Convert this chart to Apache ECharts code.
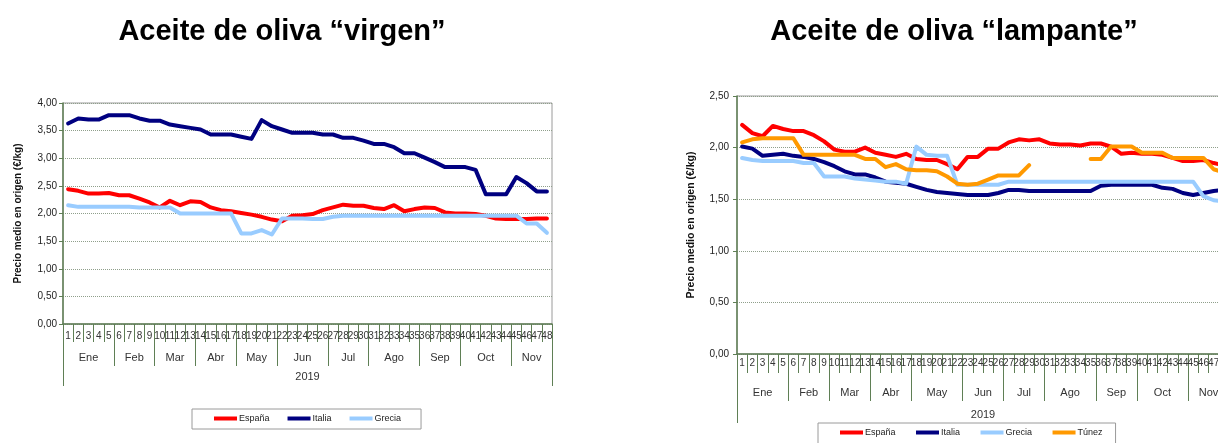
<!DOCTYPE html>
<html>
<head>
<meta charset="utf-8">
<script src="https://cdn.jsdelivr.net/npm/echarts@6/dist/echarts.min.js"></script>
<style>
html,body{margin:0;padding:0;background:#fff;}
#c{width:1218px;height:443px;}
</style>
</head>
<body>
<div id="c"></div>
<script>
// ---- data ----
const weekLabels = ['1','2','3','4','5','6','7','8','9','10','11','12','13','14','15','16','17','18','19','20','21','22','23','24','25','26','27','28','29','30','31','32','33','34','35','36','37','38','39','40','41','42','43','44','45','46','47','48'];
const monthNames = ['Ene','Feb','Mar','Abr','May','Jun','Jul','Ago','Sep','Oct','Nov'];
const weeksPerMonthVirgen = [5,4,4,4,4,5,4,5,4,5,4];
const weeksPerMonthLampante = [5,4,4,4,5,4,4,5,4,5,4];
const yearLabel = '2019';

const virgenEspana = [2.44,2.41,2.36,2.36,2.37,2.33,2.33,2.27,2.20,2.11,2.23,2.15,2.22,2.21,2.11,2.06,2.04,2.01,1.98,1.94,1.89,1.86,1.96,1.97,1.99,2.06,2.11,2.16,2.14,2.14,2.10,2.08,2.15,2.04,2.08,2.11,2.10,2.02,2.00,2.00,1.99,1.96,1.91,1.90,1.90,1.90,1.91,1.91];
const virgenItalia = [3.63,3.72,3.70,3.70,3.78,3.78,3.78,3.72,3.68,3.68,3.61,3.58,3.55,3.52,3.43,3.43,3.43,3.39,3.35,3.69,3.58,3.52,3.46,3.46,3.46,3.43,3.43,3.37,3.37,3.32,3.26,3.26,3.20,3.09,3.09,3.01,2.93,2.84,2.84,2.84,2.79,2.35,2.35,2.35,2.66,2.55,2.40,2.40];
const virgenGrecia = [2.15,2.12,2.12,2.12,2.12,2.12,2.12,2.11,2.11,2.11,2.11,2.00,2.00,2.00,2.00,2.00,2.00,1.64,1.64,1.70,1.62,1.91,1.91,1.91,1.90,1.90,1.94,1.96,1.96,1.96,1.96,1.96,1.96,1.96,1.96,1.96,1.96,1.96,1.96,1.96,1.96,1.96,1.96,1.96,1.96,1.82,1.82,1.65];

const lampEspana = [2.22,2.14,2.11,2.21,2.18,2.16,2.16,2.12,2.06,1.98,1.96,1.96,2.00,1.95,1.93,1.91,1.94,1.89,1.88,1.88,1.84,1.79,1.91,1.91,1.99,1.99,2.05,2.08,2.07,2.08,2.04,2.03,2.03,2.02,2.04,2.04,2.01,1.94,1.95,1.94,1.94,1.93,1.90,1.87,1.87,1.88,1.85,1.83];
const lampItalia = [2.01,1.99,1.92,1.93,1.94,1.92,1.91,1.89,1.86,1.82,1.77,1.74,1.74,1.71,1.67,1.66,1.65,1.62,1.59,1.57,1.56,1.55,1.54,1.54,1.54,1.56,1.59,1.59,1.58,1.58,1.58,1.58,1.58,1.58,1.58,1.63,1.64,1.64,1.64,1.64,1.64,1.61,1.60,1.56,1.54,1.56,1.58,1.59];
const lampGrecia = [1.90,1.88,1.87,1.87,1.87,1.87,1.85,1.85,1.72,1.72,1.72,1.70,1.69,1.68,1.67,1.67,1.65,2.01,1.93,1.92,1.92,1.64,1.64,1.64,1.64,1.64,1.67,1.67,1.67,1.67,1.67,1.67,1.67,1.67,1.67,1.67,1.67,1.67,1.67,1.67,1.67,1.67,1.67,1.67,1.67,1.53,1.49,1.48];
const lampTunez = [2.05,2.08,2.09,2.09,2.09,2.09,1.93,1.93,1.93,1.93,1.93,1.93,1.89,1.89,1.81,1.84,1.79,1.78,1.78,1.77,1.72,1.65,1.64,1.65,1.69,1.73,1.73,1.73,1.83,null,null,null,null,null,1.89,1.89,2.01,2.01,2.01,1.95,1.95,1.95,1.90,1.90,1.90,1.90,1.79,1.76];

// ---- helpers ----
function monthBounds(counts){ const b=[0]; counts.forEach(c=>b.push(b[b.length-1]+c)); return b; }
function monthCenters(counts){ const b=monthBounds(counts); return counts.map((c,i)=>(b[i]+b[i+1])/2); }

const axisGreen = '#5f7f55';
const gridDot = '#8f9f8b';
const labelFont = "'Liberation Sans Narrow','Arial Narrow','Liberation Sans',Arial,sans-serif";
const armFont = "'Liberation Sans',Arial,sans-serif";
const fmt = v => v.toFixed(2).replace('.', ',');

function xAxesFor(gridIndex, counts, m){
  const centers = monthCenters(counts);
  return [
    { type:'category', gridIndex, data: weekLabels, position:'bottom', boundaryGap:true,
      axisLine:{show:true, onZero:false, lineStyle:{color:axisGreen, width:1.5}},
      axisTick:{show:true, interval:0, length:m.wt, lineStyle:{color:axisGreen}},
      axisLabel:{interval:0, margin:m.wl, fontSize:10, color:'#333', fontFamily:labelFont},
      splitLine:{show:false}},
    { type:'value', gridIndex, min:0, max:48, position:'bottom',
      axisLine:{show:false, onZero:false}, splitLine:{show:false},
      axisTick:{show:true, customValues: monthBounds(counts), length:m.mt, lineStyle:{color:axisGreen}},
      axisLabel:{customValues: centers, margin:m.ml, fontSize:11, color:'#333', fontFamily:labelFont,
        formatter: v => { const i = centers.indexOf(v); return i>=0 ? monthNames[i] : ''; }}},
    { type:'value', gridIndex, min:0, max:48, position:'bottom',
      axisLine:{show:false, onZero:false}, splitLine:{show:false},
      axisTick:{show:true, customValues:[0,48], length:m.yt, lineStyle:{color:axisGreen}},
      axisLabel:{customValues:[24], margin:m.yl, fontSize:11, color:'#333', fontFamily:labelFont,
        formatter: () => yearLabel}}
  ];
}
function yAxisFor(gridIndex, max, nameGap, nameSize, margin){
  return { type:'value', gridIndex, min:0, max, interval:0.5,
    name:'Precio medio en origen (€/kg)', nameLocation:'middle', nameRotate:90, nameGap,
    nameTextStyle:{fontWeight:'bold', fontSize:nameSize, color:'#111', fontFamily:armFont},
    axisLine:{show:true, onZero:false, lineStyle:{color:axisGreen, width:1.5}},
    axisTick:{show:true, length:4, lineStyle:{color:axisGreen}},
    axisLabel:{formatter: fmt, fontSize:10, color:'#222', margin, fontFamily:armFont},
    splitLine:{show:true, lineStyle:{color:gridDot, type:'dotted', width:1}} };
}
function line(name, data, color, xi, yi){
  return { type:'line', name, data, xAxisIndex:xi, yAxisIndex:yi, symbol:'none', showSymbol:false,
    lineStyle:{color, width:4, cap:'round', join:'round'}, itemStyle:{color}, emphasis:{disabled:true},
    animation:false };
}

const option = {
  animation:false,
  title:[
    {text:'Aceite de oliva “virgen”', left:277, top:12, textAlign:'center',
      textStyle:{fontSize:29, fontWeight:'bold', color:'#000', fontFamily:armFont}},
    {text:'Aceite de oliva “lampante”', left:949, top:12, textAlign:'center',
      textStyle:{fontSize:29, fontWeight:'bold', color:'#000', fontFamily:armFont}}
  ],
  legend:[
    {data:['España','Italia','Grecia'], left:192, top:409, orient:'horizontal',
      icon:'rect', itemWidth:23, itemHeight:4, itemGap:18, padding:[5,20,6,22],
      backgroundColor:'#fff', borderColor:'#9a9a9a', borderWidth:1, borderRadius:0,
      textStyle:{fontSize:9, color:'#222', fontFamily:armFont, padding:[0,0,0,-3]}, selectedMode:false},
    {data:['España ','Italia ','Grecia ','Túnez'], left:818, top:423, orient:'horizontal',
      icon:'rect', itemWidth:23, itemHeight:4, itemGap:18, padding:[5,13,8,22],
      backgroundColor:'#fff', borderColor:'#9a9a9a', borderWidth:1, borderRadius:0,
      textStyle:{fontSize:9, color:'#222', fontFamily:armFont, padding:[0,0,0,-3]}, selectedMode:false}
  ],
  grid:[
    {left:63, top:103, width:489, height:221, show:true, borderColor:'#9a9a9a', borderWidth:1, containLabel:false, outerBoundsMode:'none'},
    {left:737, top:96, width:492, height:258, show:true, borderColor:'#9a9a9a', borderWidth:1, containLabel:false, outerBoundsMode:'none'}
  ],
  xAxis:[
    ...xAxesFor(0, weeksPerMonthVirgen, {wt:18, wl:7, mt:42, ml:28, yt:62, yl:47}),
    ...xAxesFor(1, weeksPerMonthLampante, {wt:19, wl:4, mt:47, ml:33, yt:69, yl:55})
  ],
  yAxis:[ yAxisFor(0, 4, 40, 10, 6), yAxisFor(1, 2.5, 40, 10.5, 8) ],
  series:[
    line('España', virgenEspana, '#ff0000', 0, 0),
    line('Italia', virgenItalia, '#000080', 0, 0),
    line('Grecia', virgenGrecia, '#99ccff', 0, 0),
    line('España ', lampEspana, '#ff0000', 3, 1),
    line('Italia ', lampItalia, '#000080', 3, 1),
    line('Grecia ', lampGrecia, '#99ccff', 3, 1),
    line('Túnez', lampTunez, '#ff9900', 3, 1)
  ]
};
const chart = echarts.init(document.getElementById('c'), null, {renderer:'canvas'});
chart.setOption(option);
</script>
</body>
</html>
